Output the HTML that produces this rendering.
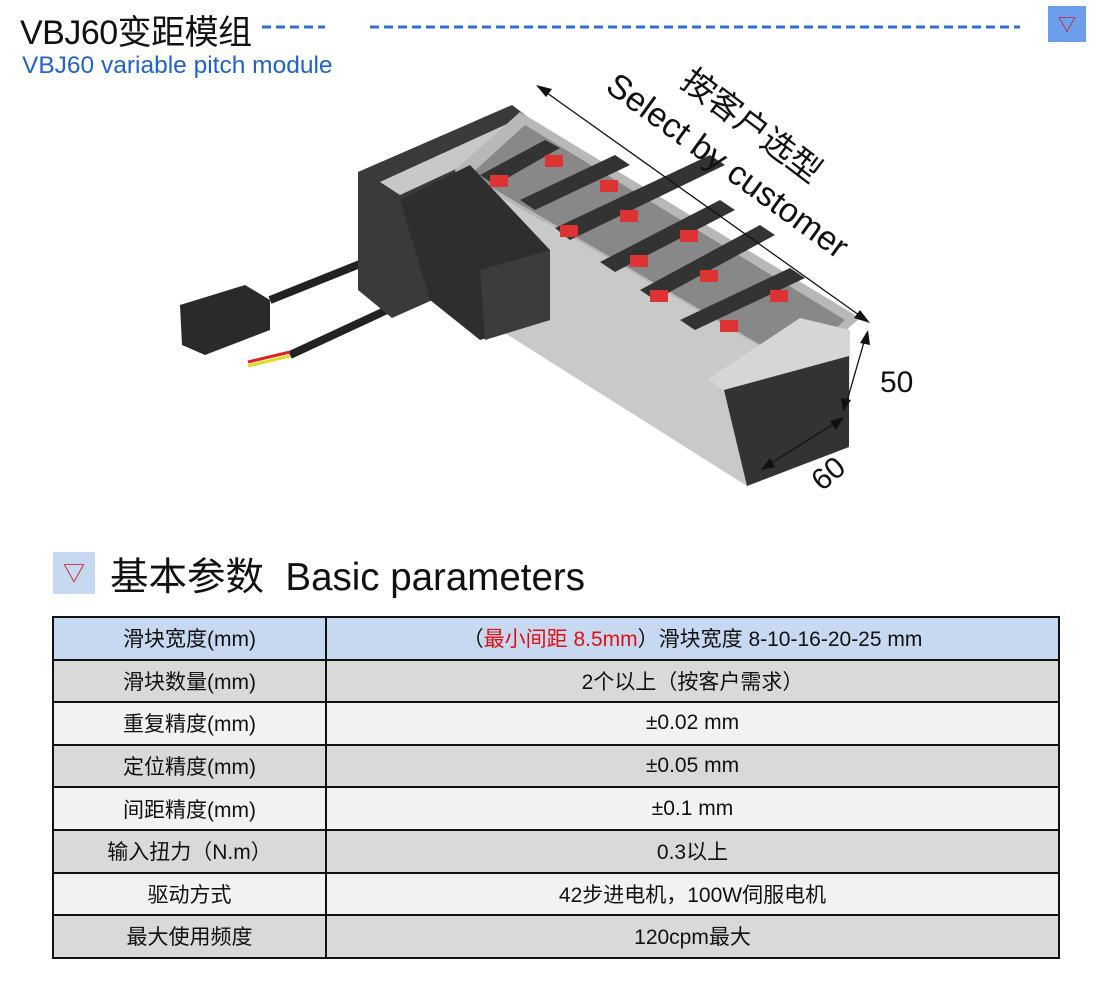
<!DOCTYPE html>
<html><head><meta charset="utf-8"><style>
body{margin:0;width:1100px;height:983px;background:#fff;position:relative;overflow:hidden;font-family:"Liberation Sans","Noto Sans CJK SC",sans-serif;}
.abs{position:absolute;}
table{position:absolute;left:52px;top:616px;width:1008px;border-collapse:collapse;}
td{border:2px solid #111;height:40.6px;text-align:center;font-size:21px;color:#111;padding:0;}
td.l{width:271px;}
.b{background:#c6d9f1}.g{background:#d9d9d9}.w{background:#f2f2f2}
</style></head><body>
<div class="abs" style="left:20px;top:5px;font-size:34px;color:#111;letter-spacing:-0.5px">VBJ60变距模组</div>
<svg class="abs" style="left:0;top:0" width="1100" height="983">
<line x1="262" y1="27" x2="325" y2="27" stroke="#2f6fd0" stroke-width="3" stroke-dasharray="9,5"/>
<line x1="370" y1="27" x2="1020" y2="27" stroke="#2f6fd0" stroke-width="3" stroke-dasharray="9,5"/>
<rect x="1048" y="6" width="38" height="36" fill="#6d9eeb"/>
<text x="1067" y="31" font-size="18" fill="#d01010" text-anchor="middle">▽</text>
<path d="M270 300 L420 240 L440 250" stroke="#222" stroke-width="8" fill="none"/>
<path d="M290 355 L430 290 L450 292" stroke="#222" stroke-width="8" fill="none"/>
<path d="M248 362 L290 352" stroke="#d22" stroke-width="3"/>
<path d="M248 366 L290 356" stroke="#dd2" stroke-width="3"/>
<polygon points="180,305 245,285 270,300 270,330 205,355 182,345" fill="#2a2a2a"/>
<polygon points="358,172 512,105 545,130 545,250 392,318 358,290" fill="#3a3a3a"/>
<polygon points="380,182 520,118 540,130 400,195" fill="#c8c8c8"/>
<polygon points="455,170 520,112 860,318 800,370" fill="#b8b8b8"/>
<polygon points="470,175 525,125 845,320 795,365" fill="#888"/>
<polygon points="455,170 800,370 747,486 500,330" fill="#c9c9c9"/>
<polygon points="708,379 800,318 850,330 849,447 747,486 724,390" fill="#d6d6d6"/>
<polygon points="724,390 849,356 849,447 747,486" fill="#333"/>
<polygon points="400,200 470,165 550,250 550,320 480,340 430,300" fill="#2e2e2e"/>
<polygon points="480,270 550,250 550,320 485,340" fill="#3c3c3c"/>
<g fill="#333">
<polygon points="480,175 545,140 560,148 495,185"/>
<polygon points="520,200 615,155 630,165 535,210"/>
<polygon points="555,228 710,155 725,165 570,240"/>
<polygon points="600,262 720,200 735,210 615,272"/>
<polygon points="640,290 760,225 775,235 655,300"/>
<polygon points="680,320 790,268 805,278 695,330"/>
</g>
<g fill="#d33">
<rect x="490" y="175" width="18" height="12"/><rect x="545" y="155" width="18" height="12"/>
<rect x="600" y="180" width="18" height="12"/><rect x="560" y="225" width="18" height="12"/>
<rect x="620" y="210" width="18" height="12"/><rect x="680" y="230" width="18" height="12"/>
<rect x="630" y="255" width="18" height="12"/><rect x="700" y="270" width="18" height="12"/>
<rect x="650" y="290" width="18" height="12"/><rect x="770" y="290" width="18" height="12"/>
<rect x="720" y="320" width="18" height="12"/>
</g>
<line x1="540" y1="88" x2="866" y2="320" stroke="#111" stroke-width="1.3"/>
<polygon points="536,85 552,89 546,97" fill="#111"/>
<polygon points="870,323 854,318 860,310" fill="#111"/>
<line x1="866" y1="335" x2="845" y2="408" stroke="#111" stroke-width="1.3"/>
<polygon points="868,330 870,345 860,343" fill="#111"/>
<polygon points="843,412 841,398 851,400" fill="#111"/>
<line x1="840" y1="420" x2="765" y2="467" stroke="#111" stroke-width="1.3"/>
<polygon points="844,417 836,430 830,421" fill="#111"/>
<polygon points="761,470 770,458 775,467" fill="#111"/>
<text x="604" y="90" font-size="34" fill="#111" transform="rotate(36 604 90)" font-family="Liberation Sans,sans-serif">Select by customer</text>
<text x="679" y="85" font-size="33" fill="#111" transform="rotate(37 679 85)" font-family="Noto Sans CJK SC,sans-serif">按客户选型</text>
<text x="880" y="392" font-size="30" fill="#111">50</text>
<text x="822" y="492" font-size="30" fill="#111" transform="rotate(-40 822 492)">60</text>
<rect x="53" y="552" width="42" height="42" fill="#c6d9f1"/>
<text x="74" y="581" font-size="22" fill="#d01010" text-anchor="middle">▽</text>
</svg>
<div class="abs" style="left:22px;top:52px;font-size:24.5px;color:#1f63c9">VBJ60 variable pitch module</div>
<div class="abs" style="left:110px;top:546px;font-size:38.5px;color:#111">基本参数&nbsp; Basic parameters</div>
<table>
<tr class="b"><td class="l">滑块宽度(mm)</td><td>（<span style="color:#e01010">最小间距 8.5mm</span>）滑块宽度 8-10-16-20-25 mm</td></tr>
<tr class="g"><td class="l">滑块数量(mm)</td><td>2个以上（按客户需求）</td></tr>
<tr class="w"><td class="l">重复精度(mm)</td><td>±0.02 mm</td></tr>
<tr class="g"><td class="l">定位精度(mm)</td><td>±0.05 mm</td></tr>
<tr class="w"><td class="l">间距精度(mm)</td><td>±0.1 mm</td></tr>
<tr class="g"><td class="l">输入扭力（N.m）</td><td>0.3以上</td></tr>
<tr class="w"><td class="l">驱动方式</td><td>42步进电机，100W伺服电机</td></tr>
<tr class="g"><td class="l">最大使用频度</td><td>120cpm最大</td></tr>
</table>
</body></html>
